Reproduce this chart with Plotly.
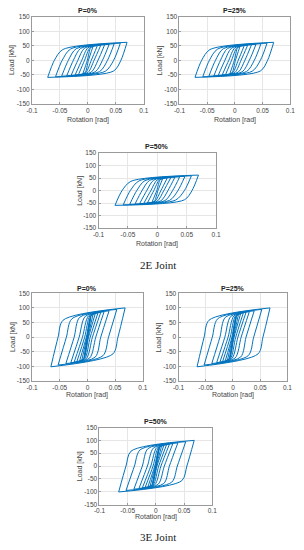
import plotly.graph_objects as go

# ---------------- data ----------------
panel_titles = ["P=0%", "P=25%", "P=50%", "P=0%", "P=25%", "P=50%"]
group_labels = ["2E Joint", "3E Joint"]
x_title = "Rotation [rad]"
y_title = "Load [kN]"
x_tick_vals = [-0.1, -0.05, 0, 0.05, 0.1]
x_tick_text = ["-0.1", "-0.05", "0", "0.05", "0.1"]
y_tick_vals = [-150, -100, -50, 0, 50, 100, 150]
y_tick_text = ["-150", "-100", "-50", "0", "50", "100", "150"]

# 2E joint hysteresis cycles (peak rotations / loads, zero crossings, knees)
e2_amp_pos = [0.009, 0.017, 0.023, 0.030, 0.038, 0.047, 0.058, 0.070]
e2_amp_neg = [0.009, 0.017, 0.023, 0.030, 0.038, 0.047, 0.058, 0.072]
e2_load_pos = [47, 51, 52, 54, 55, 57, 59, 62]
e2_load_neg = [-46, -50, -51, -52, -54, -55, -57, -59]
e2_up_zero = [-0.001, -0.006, -0.011, -0.018, -0.026, -0.035, -0.046, -0.060]
e2_dn_zero = [0.001, 0.006, 0.011, 0.018, 0.026, 0.035, 0.046, 0.059]
e2_up_knee_x = [0.005, 0.004, 0.000, -0.006, -0.013, -0.021, -0.031, -0.045]
e2_up_knee_y = [44, 44, 43, 42, 41, 40, 39, 37]
e2_dn_knee_x = [-0.005, -0.004, 0.000, 0.006, 0.013, 0.021, 0.031, 0.046]
e2_dn_knee_y = [-43, -43, -42, -41, -40, -39, -38, -37]

# 3E joint hysteresis cycles
e3_amp_pos = [0.006, 0.010, 0.014, 0.019, 0.024, 0.030, 0.039, 0.053, 0.068]
e3_amp_neg = [0.006, 0.010, 0.014, 0.019, 0.024, 0.030, 0.039, 0.053, 0.066]
e3_load_pos = [70, 77, 80, 83, 85, 87, 90, 95, 100]
e3_load_neg = [-70, -77, -80, -83, -85, -87, -90, -95, -101]
e3_up_zero = [0.000, -0.001, -0.002, -0.005, -0.009, -0.015, -0.024, -0.038, -0.053]
e3_dn_zero = [0.000, 0.001, 0.002, 0.005, 0.009, 0.015, 0.024, 0.038, 0.055]
e3_up_knee_x = [0.004, 0.006, 0.007, 0.005, 0.002, -0.004, -0.014, -0.028, -0.044]
e3_up_knee_y = [66, 72, 74, 74, 73, 71, 68, 63, 58]
e3_dn_knee_x = [-0.004, -0.006, -0.007, -0.005, -0.002, 0.004, 0.014, 0.028, 0.046]
e3_dn_knee_y = [-66, -72, -74, -74, -73, -71, -68, -63, -57]

e2_cycles = dict(ap=e2_amp_pos, an=e2_amp_neg, lp=e2_load_pos, ln=e2_load_neg,
                 uz=e2_up_zero, dz=e2_dn_zero, ukx=e2_up_knee_x, uky=e2_up_knee_y,
                 dkx=e2_dn_knee_x, dky=e2_dn_knee_y)
e3_cycles = dict(ap=e3_amp_pos, an=e3_amp_neg, lp=e3_load_pos, ln=e3_load_neg,
                 uz=e3_up_zero, dz=e3_dn_zero, ukx=e3_up_knee_x, uky=e3_up_knee_y,
                 dkx=e3_dn_knee_x, dky=e3_dn_knee_y)
panel_cycles = [e2_cycles, e2_cycles, e2_cycles, e3_cycles, e3_cycles, e3_cycles]

# ---------------- layout (pixel boxes of each panel) ----------------
W, H = 304, 550
boxes = [  # left, right, top, bottom (px)
    (27, 143, 13, 101),
    (180, 295, 13, 101),
    (96, 218, 151, 227),
    (27, 142, 293, 382),
    (179, 292, 293, 382),
    (97, 214, 429, 507),
]
title_y = [7, 7, 144, 288, 288, 423]
xlabel_y = [117, 117, 243, 396, 396, 520]
group_pos = [(158, 264), (158, 540)]

BLUE = "#0072BD"
FONT = "Liberation Sans"


def build_path(c):
    xs, ys = [], []
    for i in range(len(c["ap"])):
        ap, an, lp, ln = c["ap"][i], c["an"][i], c["lp"][i], c["ln"][i]
        # rising branch
        rx = [-an, c["uz"][i]]
        ry = [ln, 0]
        if c["ukx"][i] < ap - 0.002:
            rx.append(c["ukx"][i]); ry.append(c["uky"][i])
        rx.append(ap); ry.append(lp)
        xs += rx + [None]; ys += ry + [None]
        # descending branch
        dx = [ap, c["dz"][i]]
        dy = [lp, 0]
        if c["dkx"][i] > -an + 0.002:
            dx.append(c["dkx"][i]); dy.append(c["dky"][i])
        dx.append(-an); dy.append(ln)
        xs += dx + [None]; ys += dy + [None]
    return xs, ys


fig = go.Figure()
layout = dict(width=W, height=H, margin=dict(l=0, r=0, t=0, b=0),
              paper_bgcolor="white", plot_bgcolor="white", showlegend=False)
annotations = []

for i, (l, r, t, b) in enumerate(boxes):
    n = "" if i == 0 else str(i + 1)
    xs, ys = build_path(panel_cycles[i])
    fig.add_trace(go.Scatter(x=xs, y=ys, mode="lines", xaxis="x" + n, yaxis="y" + n,
                             line=dict(color=BLUE, width=1, shape="spline", smoothing=0.8),
                             connectgaps=False, hoverinfo="skip"))
    common = dict(showgrid=True, gridcolor="#e6e6e6", gridwidth=1, zeroline=False,
                  showline=True, mirror=True, linecolor="#9a9a9a", linewidth=1,
                  ticks="inside", ticklen=2, tickcolor="#9a9a9a",
                  tickfont=dict(family=FONT, size=6.5, color="#444"), fixedrange=True)
    layout["xaxis" + n] = dict(domain=[l / W, r / W], range=[-0.1, 0.1],
                               tickvals=x_tick_vals, ticktext=x_tick_text,
                               anchor="y" + n, **common)
    layout["yaxis" + n] = dict(domain=[1 - b / H, 1 - t / H], range=[-150, 150],
                               tickvals=y_tick_vals, ticktext=y_tick_text,
                               anchor="x" + n, **common)
    cx = (l + r) / 2 / W
    annotations.append(dict(text="<b>" + panel_titles[i] + "</b>", x=cx, y=1 - title_y[i] / H,
                            xref="paper", yref="paper", showarrow=False,
                            font=dict(family=FONT, size=7, color="#222"),
                            xanchor="center", yanchor="middle"))
    annotations.append(dict(text=x_title, x=cx, y=1 - xlabel_y[i] / H,
                            xref="paper", yref="paper", showarrow=False,
                            font=dict(family=FONT, size=7, color="#444"),
                            xanchor="center", yanchor="middle"))
    annotations.append(dict(text=y_title, x=(l - 20) / W, y=1 - (t + b) / 2 / H,
                            xref="paper", yref="paper", showarrow=False, textangle=-90,
                            font=dict(family=FONT, size=7, color="#444"),
                            xanchor="center", yanchor="middle"))

for (gx, gy), g in zip(group_pos, group_labels):
    annotations.append(dict(text=g, x=gx / W, y=1 - gy / H, xref="paper", yref="paper",
                            showarrow=False, font=dict(family="Liberation Serif", size=11, color="#222"),
                            xanchor="center", yanchor="middle"))

layout["annotations"] = annotations
fig.update_layout(**layout)
fig.write_html("out.html", config={"displayModeBar": False},
               post_script="document.body.style.margin='0';document.body.style.overflow='hidden';")
